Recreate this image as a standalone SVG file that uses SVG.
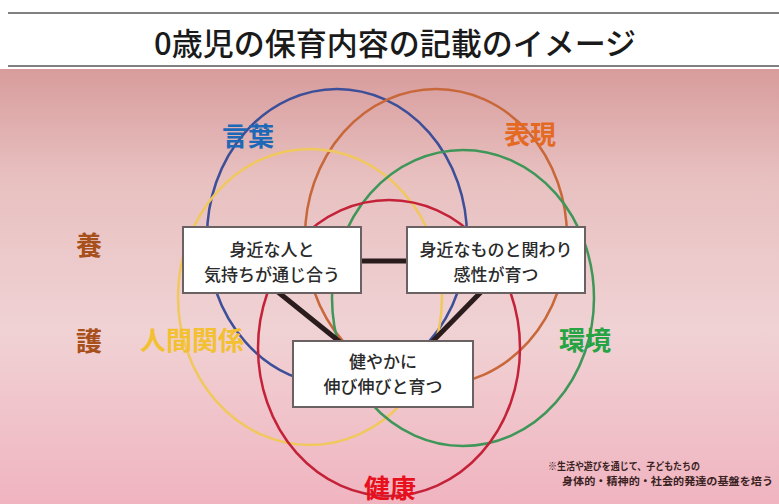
<svg xmlns="http://www.w3.org/2000/svg" width="779" height="504" viewBox="0 0 779 504">
<defs>
<linearGradient id="bg" x1="0" y1="0" x2="0" y2="1">
<stop offset="0" stop-color="#d89c9c"/>
<stop offset="0.25" stop-color="#e8c0c0"/>
<stop offset="0.6" stop-color="#f0d2d4"/>
<stop offset="1" stop-color="#f0b4c0"/>
</linearGradient>
<style>
.t{font-family:"Noto Sans CJK JP","Noto Sans",sans-serif}
.ring{fill:none;stroke-width:2.5}
.box{fill:#ffffff;stroke:#6a6262;stroke-width:2}
.bt{font-family:"Noto Sans CJK JP",sans-serif;font-size:17px;font-weight:500;fill:#2a2a2a;text-anchor:middle}
.lab{font-family:"Noto Sans CJK JP",sans-serif;font-size:26px;font-weight:bold;text-anchor:middle}
.con{stroke:#2a1c1c;stroke-width:5;fill:none}
</style>
</defs>
<rect x="0" y="0" width="779" height="504" fill="#ffffff"/>
<rect x="0" y="69" width="779" height="435" fill="url(#bg)"/>
<line x1="8" y1="13" x2="779" y2="13" stroke="#808080" stroke-width="2"/>
<line x1="8" y1="66" x2="779" y2="66" stroke="#808080" stroke-width="2"/>
<text class="t" x="395" y="55" font-size="31" font-weight="500" text-anchor="middle" fill="#1a1a1a">0歳児の保育内容の記載のイメージ</text>

<g id="rings">
<ellipse id="ring-kotoba" class="ring" cx="337" cy="237" rx="130" ry="148" stroke="#3d4f98"/>
<ellipse id="ring-hyogen" class="ring" cx="436" cy="237" rx="131" ry="148" stroke="#c8683a"/>
<ellipse id="ring-ningen" class="ring" cx="310" cy="297" rx="132" ry="148" stroke="#f0c85e"/>
<ellipse id="ring-kankyo" class="ring" cx="463" cy="298" rx="131" ry="148" stroke="#3e9658"/>
<ellipse id="ring-kenko" class="ring" cx="389" cy="348" rx="131" ry="148" stroke="#c42238"/>
</g>

<g id="connectors">
<line class="con" x1="361" y1="261" x2="407" y2="261"/>
<line class="con" x1="278" y1="292" x2="340" y2="342"/>
<line class="con" x1="481" y1="292" x2="432" y2="342"/>
</g>

<g id="node-hito">
<rect class="box" x="183" y="227" width="178" height="66"/>
<text class="bt" x="272" y="256">身近な人と</text>
<text class="bt" x="272" y="281">気持ちが通じ合う</text>
</g>
<g id="node-mono">
<rect class="box" x="407" y="227" width="178" height="66"/>
<text class="bt" x="496" y="256" font-size="16.5">身近なものと関わり</text>
<text class="bt" x="496" y="281">感性が育つ</text>
</g>
<g id="node-sukoyaka">
<rect class="box" x="293" y="341" width="180" height="66"/>
<text class="bt" x="383" y="368">健やかに</text>
<text class="bt" x="383" y="393">伸び伸びと育つ</text>
</g>

<g id="labels">
<text class="lab" x="248" y="146" fill="#1e68b8">言葉</text>
<text class="lab" x="530" y="144" fill="#e46a24">表現</text>
<text class="lab" x="192" y="350" fill="#f2c030">人間関係</text>
<text class="lab" x="585" y="350" fill="#26a444">環境</text>
<text class="lab" x="390" y="498" font-size="25" fill="#e8101c">健康</text>
<text class="lab" x="89" y="255" fill="#a8501c">養</text>
<text class="lab" x="89" y="351" fill="#a8501c">護</text>
</g>

<g id="note">
<text class="t" x="548" y="470" font-size="10" font-weight="bold" fill="#3a2222" textLength="152" lengthAdjust="spacingAndGlyphs">※生活や遊びを通じて、子どもたちの</text>
<text class="t" x="562" y="485" font-size="10.5" font-weight="bold" fill="#3a2222" textLength="211" lengthAdjust="spacingAndGlyphs">身体的・精神的・社会的発達の基盤を培う</text>
</g>
</svg>
